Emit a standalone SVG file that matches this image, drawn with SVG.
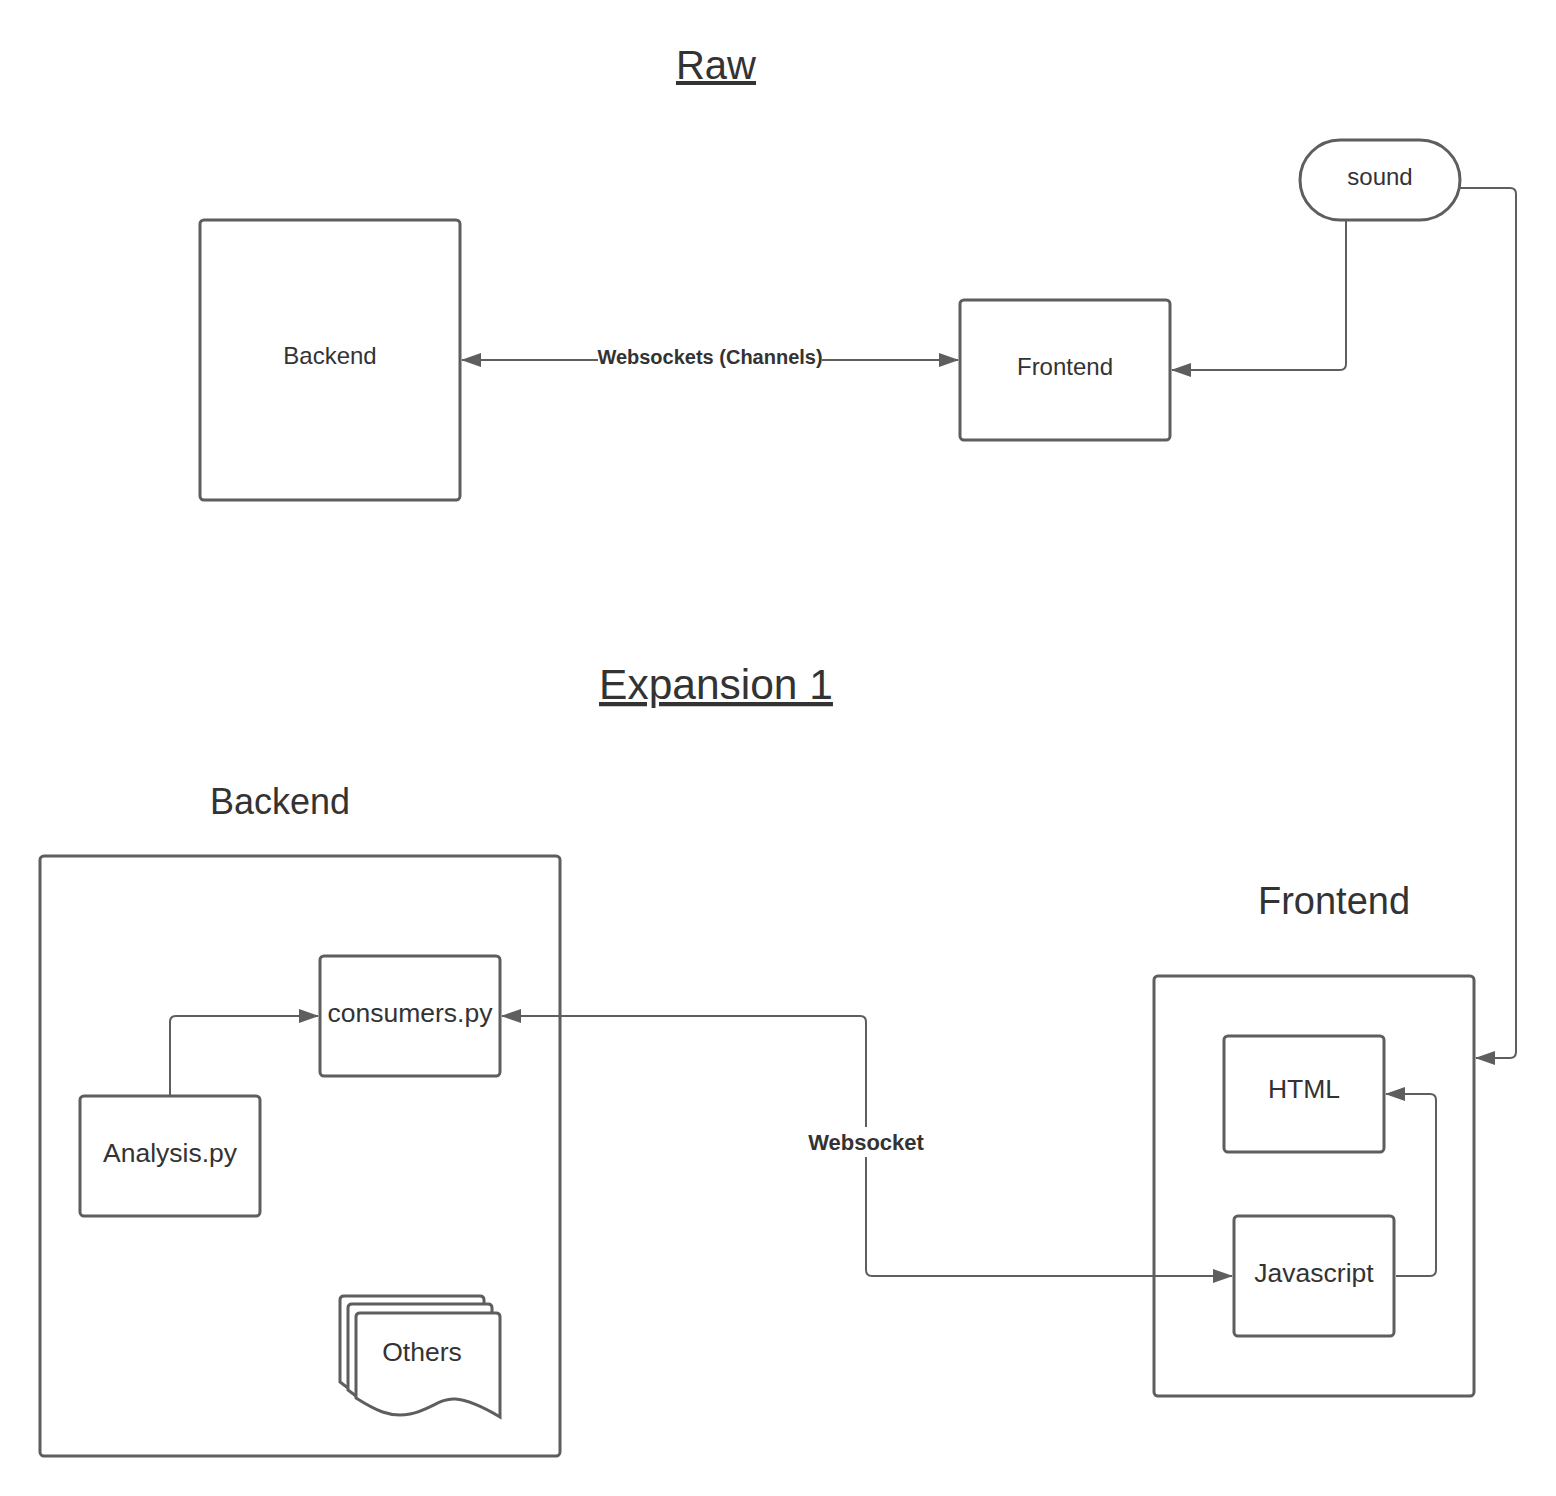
<svg xmlns="http://www.w3.org/2000/svg" width="1556" height="1496" viewBox="0 0 1556 1496">
<defs>
<style>
.box{fill:#fff;stroke:#5e5e5e;stroke-width:3}
.cont{fill:none;stroke:#5e5e5e;stroke-width:3}
.ln{fill:none;stroke:#5e5e5e;stroke-width:2}
.t{font-family:"Liberation Sans",Arial,sans-serif;fill:#333;text-anchor:middle}
.n{font-size:24px}
.m{font-size:26.5px}
.b{font-weight:bold}
.h{text-decoration:underline}
</style>
<marker id="ah" viewBox="0 0 20 14" refX="19" refY="7" markerWidth="20" markerHeight="14" markerUnits="userSpaceOnUse" orient="auto-start-reverse">
<path d="M0,0 L20,7 L0,14 Z" fill="#5e5e5e"/>
</marker>
</defs>
<rect width="1556" height="1496" fill="#fff"/>
<text class="t h" x="716" y="79" font-size="40">Raw</text>
<text class="t h" x="716" y="699" font-size="42.5">Expansion 1</text>
<text class="t" x="280" y="814" font-size="36">Backend</text>
<text class="t" x="1334" y="914" font-size="38">Frontend</text>
<g id="backend-container"><rect class="cont" x="40" y="856" width="520" height="600" rx="4"/></g>
<g id="frontend-container"><rect class="cont" x="1154" y="976" width="320" height="420" rx="4"/></g>
<g id="connectors">
<path class="ln" d="M462,360 H958" marker-start="url(#ah)" marker-end="url(#ah)"/>
<rect x="598" y="345" width="224" height="26" fill="#fff"/>
<text class="t b" x="710" y="364" font-size="20">Websockets (Channels)</text>
<path class="ln" d="M1346,220 V364 Q1346,370 1340,370 H1172" marker-end="url(#ah)"/>
<path class="ln" d="M1460,188 H1510 Q1516,188 1516,194 V1052 Q1516,1058 1510,1058 H1476" marker-end="url(#ah)"/>
<path class="ln" d="M170,1096 V1022 Q170,1016 176,1016 H318" marker-end="url(#ah)"/>
<path class="ln" d="M502,1016 H860 Q866,1016 866,1022 V1270 Q866,1276 872,1276 H1232" marker-start="url(#ah)" marker-end="url(#ah)"/>
<rect x="804" y="1127" width="124" height="30" fill="#fff"/>
<text class="t b" x="866" y="1150" font-size="22">Websocket</text>
<path class="ln" d="M1396,1276 H1430 Q1436,1276 1436,1270 V1100 Q1436,1094 1430,1094 H1386" marker-end="url(#ah)"/>
</g>
<g id="sound"><rect class="box" x="1300" y="140" width="160" height="80" rx="40"/><text class="t n" x="1380" y="185">sound</text></g>
<g id="backend-raw"><rect class="box" x="200" y="220" width="260" height="280" rx="4"/><text class="t n" x="330" y="364">Backend</text></g>
<g id="frontend-raw"><rect class="box" x="960" y="300" width="210" height="140" rx="4"/><text class="t n" x="1065" y="375">Frontend</text></g>
<g id="consumers"><rect class="box" x="320" y="956" width="180" height="120" rx="4"/><text class="t m" x="410" y="1022">consumers.py</text></g>
<g id="analysis"><rect class="box" x="80" y="1096" width="180" height="120" rx="4"/><text class="t m" x="170" y="1162">Analysis.py</text></g>
<g id="others">
<path class="box" d="M348,1388 L340,1382 V1300 Q340,1296 344,1296 H480 Q484,1296 484,1300 V1312"/>
<path class="box" d="M356,1396 L348,1390 V1308 Q348,1304 352,1304 H488 Q492,1304 492,1308 V1320"/>
<path class="box" d="M356,1317 Q356,1313 360,1313 H496 Q500,1313 500,1317 V1417 C485,1408 470,1400 455,1399 C440,1398 430,1410 410,1414 C390,1418 375,1410 356,1398 Z"/>
<text class="t m" x="422" y="1361">Others</text>
</g>
<g id="html"><rect class="box" x="1224" y="1036" width="160" height="116" rx="4"/><text class="t m" x="1304" y="1098">HTML</text></g>
<g id="javascript"><rect class="box" x="1234" y="1216" width="160" height="120" rx="4"/><text class="t m" x="1314" y="1282">Javascript</text></g>
</svg>
